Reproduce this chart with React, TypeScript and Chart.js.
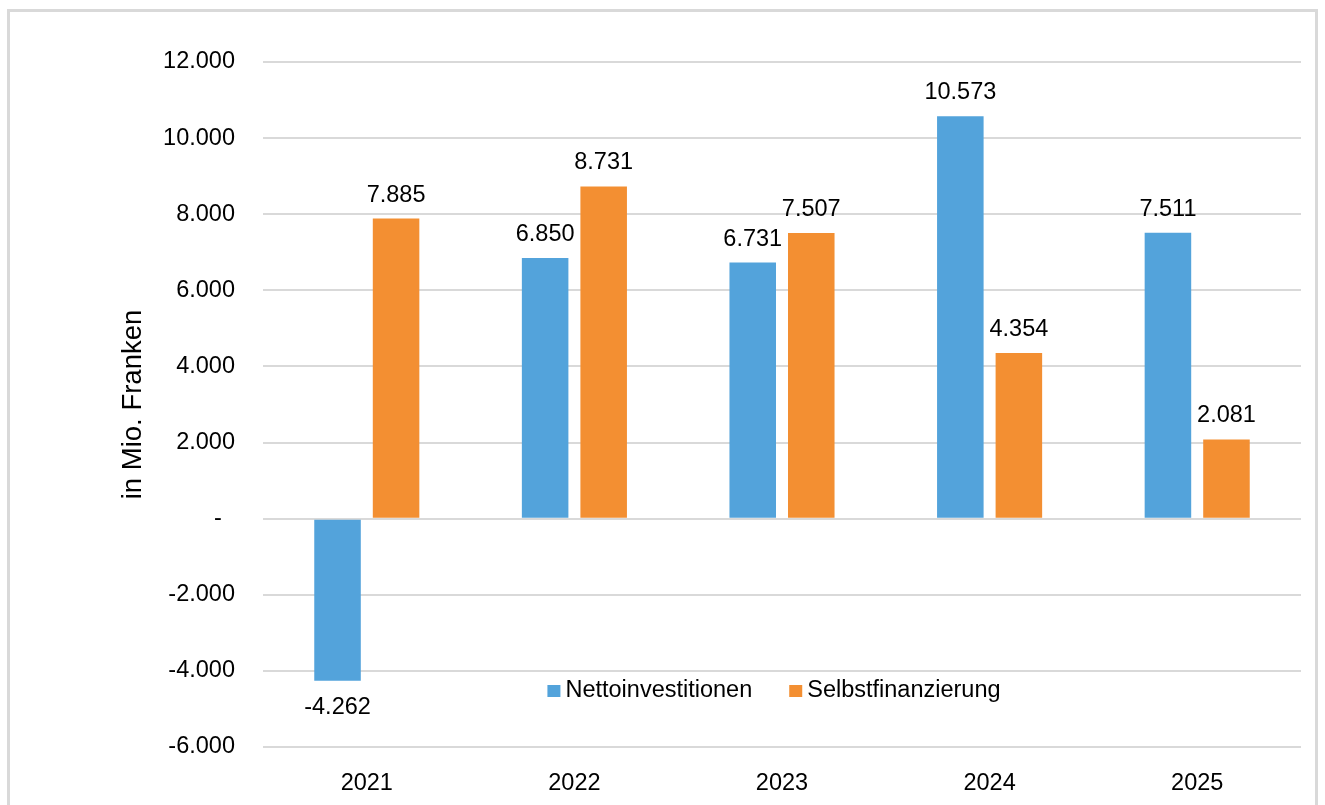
import React, { useEffect, useRef } from "react";
import { Chart, registerables } from "chart.js";

Chart.register(...registerables);

const years = ["2021", "2022", "2023", "2024", "2025"];
const nettoinvestitionen = [-4262, 6850, 6731, 10573, 7511];
const selbstfinanzierung = [7885, 8731, 7507, 4354, 2081];
const seriesNames = ["Nettoinvestitionen", "Selbstfinanzierung"];
const seriesColors = ["#53A3DB", "#F38F32"];
const yTitle = "in Mio. Franken";

const FONT = "'Liberation Sans', Arial, sans-serif";

const fmt = (v: number) => (v === 0 ? "-\u00a0\u00a0" : v.toLocaleString("de-DE"));

const labelsPlugin = {
  id: "valueLabels",
  afterDatasetsDraw(chart: any) {
    const ctx = chart.ctx;
    ctx.save();
    ctx.font = `23.5px ${FONT}`;
    ctx.fillStyle = "#000";
    ctx.textAlign = "center";
    ctx.textBaseline = "alphabetic";
    chart.data.datasets.forEach((ds: any, di: number) => {
      const meta = chart.getDatasetMeta(di);
      meta.data.forEach((bar: any, i: number) => {
        const v = ds.data[i];
        const txt = fmt(v);
        if (v >= 0) {
          ctx.fillText(txt, bar.x, bar.y - 17);
        } else {
          ctx.fillText(txt, bar.x, bar.y + 33);
        }
      });
    });
    ctx.restore();
  },
};

const legendPlugin = {
  id: "innerLegend",
  afterDraw(chart: any) {
    const ctx = chart.ctx;
    ctx.save();
    ctx.font = `23.5px ${FONT}`;
    const ds = chart.data.datasets;
    const box = 13;
    const boxGap = 5;
    const itemGap = 37;
    const widths = ds.map((d: any) => ctx.measureText(d.label).width);
    let total = 0;
    widths.forEach((w: number, i: number) => {
      total += box + boxGap + w + (i < widths.length - 1 ? itemGap : 0);
    });
    const center = 774;
    const baseline = 697;
    let x = center - total / 2;
    ctx.textBaseline = "alphabetic";
    ctx.textAlign = "left";
    ds.forEach((d: any, i: number) => {
      ctx.fillStyle = d.backgroundColor;
      ctx.fillRect(x, baseline - 12, box, 12);
      ctx.fillStyle = "#000";
      ctx.fillText(d.label, x + box + boxGap, baseline);
      x += box + boxGap + widths[i] + itemGap;
    });
    ctx.restore();
  },
};

export default function App() {
  const ref = useRef<HTMLCanvasElement | null>(null);

  useEffect(() => {
    if (!ref.current) return;
    const chart = new Chart(ref.current, {
      type: "bar",
      data: {
        labels: years,
        datasets: [
          {
            label: seriesNames[0],
            data: nettoinvestitionen,
            backgroundColor: seriesColors[0],
            barPercentage: 0.795,
            categoryPercentage: 0.564,
          },
          {
            label: seriesNames[1],
            data: selbstfinanzierung,
            backgroundColor: seriesColors[1],
            barPercentage: 0.795,
            categoryPercentage: 0.564,
          },
        ],
      },
      options: {
        responsive: false,
        animation: false,
        layout: { padding: { left: 0, top: 62, right: 24, bottom: 0 } },
        plugins: {
          legend: { display: false },
          tooltip: { enabled: false },
        },
        scales: {
          x: {
            grid: { display: false },
            border: { display: false },
            ticks: {
              color: "#000",
              font: { family: FONT, size: 23.5 },
              padding: 14,
              maxRotation: 0,
            },
            afterFit: (s: any) => {
              s.height = 58;
            },
          },
          y: {
            min: -6000,
            max: 12000,
            grid: { color: "#d9d9d9", lineWidth: 2, drawTicks: false },
            border: { display: false },
            ticks: {
              stepSize: 2000,
              color: "#000",
              font: { family: FONT, size: 23.5 },
              padding: 28,
              callback: (v: any) => fmt(Number(v)),
            },
            title: {
              display: true,
              text: yTitle,
              color: "#000",
              font: { family: FONT, size: 27.5 },
              padding: { top: 117, bottom: 0 },
            },
            afterFit: (s: any) => {
              s.width = 263;
            },
          },
        },
      },
      plugins: [labelsPlugin, legendPlugin],
    });
    return () => chart.destroy();
  }, []);

  return (
    <div
      style={{
        position: "absolute",
        left: 0,
        top: 0,
        width: 1325,
        height: 805,
        overflow: "hidden",
        background: "#fff",
      }}
    >
      <div
        style={{
          position: "absolute",
          left: 7,
          top: 9,
          width: 1311,
          height: 900,
          border: "3px solid #d9d9d9",
          boxSizing: "border-box",
        }}
      />
      <canvas
        ref={ref}
        width={1325}
        height={805}
        style={{ position: "absolute", left: 0, top: 0, width: 1325, height: 805 }}
      />
    </div>
  );
}
